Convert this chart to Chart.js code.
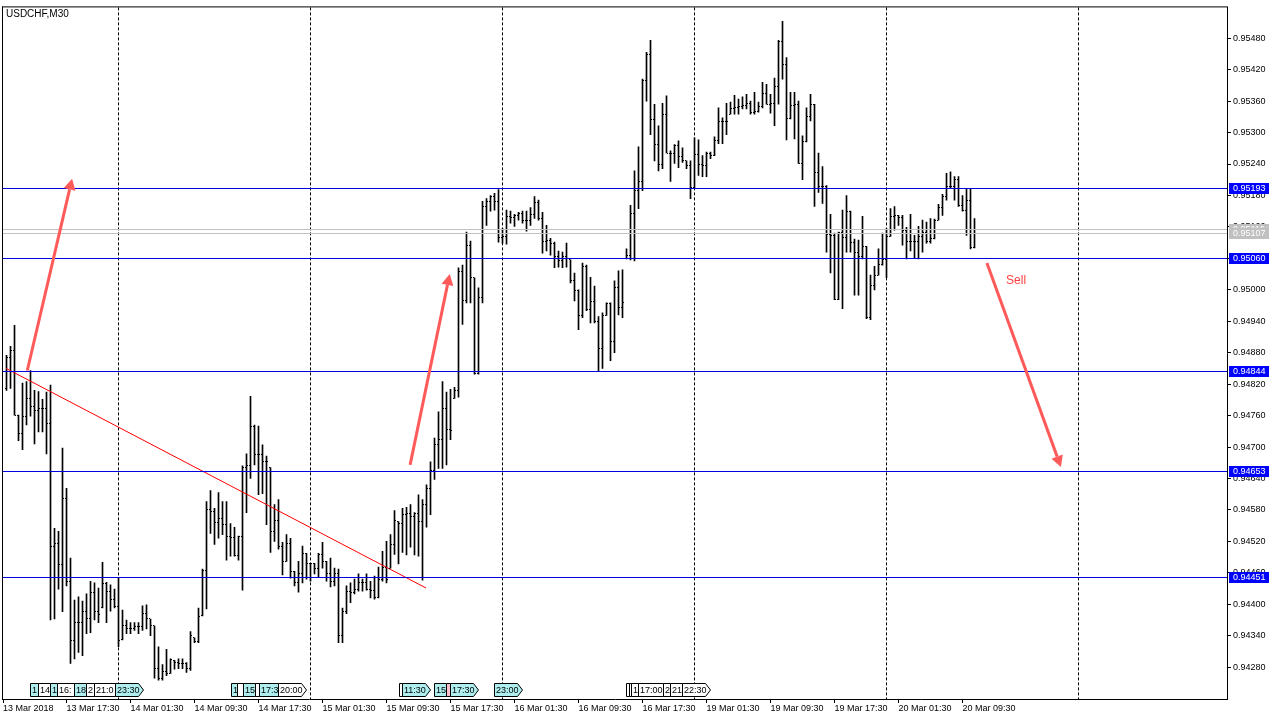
<!DOCTYPE html>
<html>
<head>
<meta charset="utf-8">
<title>USDCHF,M30</title>
<script src="https://cdn.jsdelivr.net/npm/chart.js@4.4.1/dist/chart.umd.min.js"></script>
<style>
  html, body { margin: 0; padding: 0; background: #fff; }
  canvas { display: block; }
</style>
</head>
<body>
<canvas id="chart" width="1280" height="720"></canvas>
<script>
// USDCHF M30 bars, 13 Mar 2018 10:00 .. 20 Mar 2018 11:00 (bar index = position)
const opens = [
  0.94812,0.94871,0.94884,0.94761,0.94725,0.94759,0.94793,0.94778,0.94770,0.94774,
  0.94774,0.94744,0.94511,0.94516,0.94475,0.94602,0.94444,0.94331,0.94365,0.94365,
  0.94386,0.94372,0.94423,0.94387,0.94393,0.94439,0.94425,0.94410,0.94395,0.94332,
  0.94359,0.94353,0.94353,0.94357,0.94357,0.94382,0.94372,0.94359,0.94277,0.94259,
  0.94272,0.94268,0.94293,0.94289,0.94287,0.94287,0.94277,0.94336,0.94329,0.94378,
  0.94465,0.94581,0.94577,0.94556,0.94564,0.94552,0.94530,0.94528,0.94494,0.94530,
  0.94661,0.94664,0.94740,0.94685,0.94685,0.94672,0.94661,0.94539,0.94560,0.94511,
  0.94482,0.94516,0.94463,0.94441,0.94458,0.94497,0.94477,0.94477,0.94469,0.94495,
  0.94482,0.94458,0.94444,0.94458,0.94340,0.94387,0.94425,0.94422,0.94429,0.94441,
  0.94441,0.94429,0.94427,0.94412,0.94448,0.94471,0.94469,0.94514,0.94558,0.94554,
  0.94571,0.94573,0.94568,0.94573,0.94558,0.94590,0.94621,0.94655,0.94704,0.94714,
  0.94774,0.94733,0.94793,0.94808,0.95034,0.94979,0.95085,0.95023,0.94841,0.94985,
  0.95159,0.95169,0.95178,0.95169,0.95100,0.95102,0.95140,0.95138,0.95142,0.95146,
  0.95133,0.95133,0.95144,0.95167,0.95136,0.95093,0.95095,0.95089,0.95064,0.95055,
  0.95064,0.95057,0.95017,0.94998,0.94951,0.95045,0.94962,0.94977,0.94939,0.94888,
  0.94951,0.94973,0.94901,0.95004,0.94966,0.95059,0.95066,0.95146,0.95189,0.95207,
  0.95400,0.95449,0.95324,0.95277,0.95239,0.95335,0.95261,0.95261,0.95275,0.95254,
  0.95246,0.95237,0.95195,0.95258,0.95239,0.95237,0.95261,0.95256,0.95284,0.95322,
  0.95322,0.95335,0.95345,0.95347,0.95349,0.95351,0.95356,0.95339,0.95341,0.95349,
  0.95375,0.95354,0.95356,0.95387,0.95474,0.95430,0.95326,0.95351,0.95354,0.95241,
  0.95282,0.95330,0.95354,0.95224,0.95197,0.95197,0.95106,0.95104,0.94981,0.95110,
  0.95100,0.95150,0.95091,0.95072,0.95064,0.95083,0.94947,0.95009,0.95028,0.95049,
  0.95057,0.95102,0.95140,0.95142,0.95138,0.95114,0.95093,0.95093,0.95093,0.95102,
  0.95110,0.95093,0.95097,0.95133,0.95157,0.95178,0.95197,0.95197,0.95210,0.95161,
  0.95152,0.95171,0.95081
];
const highs = [
  0.94875,0.94892,0.94932,0.94761,0.94822,0.94825,0.94846,0.94808,0.94806,0.94791,
  0.94805,0.94818,0.94545,0.94539,0.94698,0.94621,0.94488,0.94408,0.94414,0.94406,
  0.94420,0.94444,0.94441,0.94431,0.94480,0.94442,0.94437,0.94429,0.94450,0.94389,
  0.94370,0.94365,0.94365,0.94365,0.94397,0.94399,0.94372,0.94359,0.94319,0.94285,
  0.94314,0.94296,0.94293,0.94296,0.94296,0.94289,0.94348,0.94336,0.94393,0.94467,
  0.94596,0.94617,0.94583,0.94613,0.94596,0.94596,0.94554,0.94547,0.94530,0.94664,
  0.94687,0.94797,0.94742,0.94740,0.94704,0.94683,0.94661,0.94590,0.94600,0.94518,
  0.94533,0.94526,0.94463,0.94482,0.94511,0.94497,0.94478,0.94478,0.94497,0.94518,
  0.94482,0.94488,0.94469,0.94467,0.94393,0.94435,0.94441,0.94448,0.94458,0.94448,
  0.94458,0.94444,0.94454,0.94471,0.94501,0.94520,0.94533,0.94579,0.94558,0.94583,
  0.94585,0.94590,0.94575,0.94609,0.94600,0.94628,0.94672,0.94717,0.94767,0.94825,
  0.94805,0.94810,0.94814,0.95042,0.95047,0.95110,0.95093,0.95023,0.95004,0.95169,
  0.95174,0.95180,0.95184,0.95191,0.95117,0.95152,0.95150,0.95144,0.95148,0.95150,
  0.95150,0.95157,0.95178,0.95171,0.95148,0.95123,0.95098,0.95091,0.95074,0.95072,
  0.95089,0.95057,0.95032,0.95000,0.95051,0.95047,0.95024,0.95007,0.94949,0.94956,
  0.94975,0.94975,0.95017,0.95036,0.95038,0.95078,0.95161,0.95227,0.95273,0.95402,
  0.95453,0.95476,0.95354,0.95313,0.95356,0.95370,0.95265,0.95277,0.95284,0.95271,
  0.95246,0.95246,0.95290,0.95286,0.95256,0.95263,0.95263,0.95292,0.95347,0.95328,
  0.95356,0.95358,0.95371,0.95364,0.95368,0.95373,0.95360,0.95377,0.95358,0.95396,
  0.95392,0.95373,0.95404,0.95476,0.95512,0.95443,0.95377,0.95377,0.95360,0.95294,
  0.95347,0.95373,0.95354,0.95261,0.95235,0.95199,0.95144,0.95108,0.95110,0.95152,
  0.95180,0.95150,0.95097,0.95095,0.95140,0.95083,0.95028,0.95045,0.95078,0.95108,
  0.95117,0.95155,0.95159,0.95142,0.95142,0.95119,0.95144,0.95104,0.95121,0.95133,
  0.95129,0.95136,0.95135,0.95163,0.95182,0.95222,0.95225,0.95216,0.95216,0.95180,
  0.95193,0.95193,0.95136
];
const lows = [
  0.94808,0.94812,0.94761,0.94712,0.94695,0.94742,0.94759,0.94706,0.94729,0.94729,
  0.94687,0.94370,0.94372,0.94429,0.94386,0.94435,0.94287,0.94296,0.94308,0.94302,
  0.94344,0.94346,0.94370,0.94365,0.94393,0.94365,0.94387,0.94393,0.94319,0.94332,
  0.94344,0.94344,0.94350,0.94344,0.94350,0.94353,0.94340,0.94259,0.94255,0.94255,
  0.94264,0.94268,0.94276,0.94277,0.94277,0.94270,0.94274,0.94327,0.94327,0.94378,
  0.94391,0.94535,0.94514,0.94526,0.94533,0.94484,0.94492,0.94492,0.94484,0.94427,
  0.94575,0.94640,0.94666,0.94609,0.94611,0.94552,0.94499,0.94520,0.94505,0.94456,
  0.94482,0.94450,0.94435,0.94423,0.94441,0.94448,0.94444,0.94458,0.94452,0.94469,
  0.94444,0.94433,0.94435,0.94327,0.94327,0.94382,0.94403,0.94420,0.94425,0.94425,
  0.94427,0.94412,0.94410,0.94412,0.94444,0.94441,0.94469,0.94495,0.94477,0.94499,
  0.94494,0.94509,0.94494,0.94492,0.94446,0.94547,0.94571,0.94638,0.94659,0.94659,
  0.94666,0.94714,0.94793,0.94795,0.94934,0.94975,0.94975,0.94839,0.94839,0.94975,
  0.95123,0.95150,0.95152,0.95091,0.95089,0.95087,0.95127,0.95121,0.95133,0.95127,
  0.95112,0.95123,0.95136,0.95133,0.95070,0.95074,0.95066,0.95042,0.95043,0.95042,
  0.95043,0.95013,0.94979,0.94924,0.94947,0.94960,0.94937,0.94937,0.94844,0.94850,
  0.94951,0.94865,0.94880,0.94952,0.94947,0.95059,0.95057,0.95055,0.95155,0.95189,
  0.95360,0.95296,0.95246,0.95227,0.95231,0.95261,0.95207,0.95241,0.95233,0.95243,
  0.95231,0.95174,0.95195,0.95218,0.95216,0.95216,0.95250,0.95256,0.95279,0.95279,
  0.95296,0.95335,0.95335,0.95335,0.95345,0.95345,0.95335,0.95335,0.95339,0.95347,
  0.95354,0.95337,0.95313,0.95354,0.95402,0.95286,0.95326,0.95288,0.95241,0.95210,
  0.95282,0.95322,0.95159,0.95186,0.95165,0.95072,0.95032,0.94981,0.94981,0.94964,
  0.95072,0.95072,0.94990,0.94990,0.95059,0.94945,0.94943,0.95000,0.95028,0.95047,
  0.95023,0.95102,0.95114,0.95123,0.95085,0.95059,0.95074,0.95061,0.95059,0.95072,
  0.95089,0.95089,0.95097,0.95133,0.95142,0.95171,0.95193,0.95171,0.95159,0.95150,
  0.95104,0.95078,0.95080
];
const closes = [
  0.94871,0.94884,0.94761,0.94725,0.94759,0.94793,0.94778,0.94770,0.94774,0.94774,
  0.94744,0.94511,0.94516,0.94475,0.94602,0.94444,0.94331,0.94365,0.94365,0.94386,
  0.94372,0.94423,0.94387,0.94380,0.94439,0.94425,0.94410,0.94395,0.94331,0.94359,
  0.94353,0.94353,0.94357,0.94357,0.94382,0.94372,0.94359,0.94277,0.94259,0.94272,
  0.94268,0.94294,0.94289,0.94287,0.94287,0.94277,0.94340,0.94329,0.94376,0.94465,
  0.94581,0.94577,0.94556,0.94564,0.94552,0.94530,0.94528,0.94494,0.94530,0.94661,
  0.94664,0.94740,0.94685,0.94685,0.94672,0.94672,0.94539,0.94560,0.94511,0.94482,
  0.94516,0.94463,0.94441,0.94458,0.94497,0.94477,0.94477,0.94469,0.94495,0.94482,
  0.94458,0.94444,0.94458,0.94340,0.94387,0.94425,0.94422,0.94429,0.94441,0.94441,
  0.94429,0.94427,0.94412,0.94448,0.94471,0.94448,0.94514,0.94560,0.94554,0.94571,
  0.94573,0.94568,0.94573,0.94558,0.94590,0.94621,0.94655,0.94704,0.94714,0.94774,
  0.94733,0.94731,0.94808,0.95034,0.94979,0.95085,0.95023,0.94841,0.94985,0.95159,
  0.95169,0.95178,0.95169,0.95100,0.95102,0.95140,0.95138,0.95142,0.95146,0.95133,
  0.95133,0.95144,0.95167,0.95136,0.95093,0.95095,0.95089,0.95064,0.95055,0.95064,
  0.95059,0.95017,0.94998,0.94951,0.95045,0.94962,0.94977,0.94939,0.94888,0.94951,
  0.94973,0.94901,0.95004,0.94966,0.94975,0.95066,0.95146,0.95189,0.95207,0.95400,
  0.95449,0.95324,0.95277,0.95239,0.95335,0.95261,0.95261,0.95275,0.95254,0.95246,
  0.95237,0.95195,0.95258,0.95239,0.95237,0.95261,0.95256,0.95284,0.95322,0.95322,
  0.95322,0.95345,0.95347,0.95349,0.95351,0.95356,0.95339,0.95341,0.95349,0.95375,
  0.95354,0.95356,0.95387,0.95474,0.95430,0.95326,0.95351,0.95354,0.95241,0.95282,
  0.95330,0.95354,0.95224,0.95197,0.95197,0.95106,0.95104,0.94981,0.95110,0.95100,
  0.95150,0.95091,0.95072,0.95064,0.95083,0.94947,0.95009,0.95028,0.95049,0.95057,
  0.95102,0.95140,0.95142,0.95138,0.95114,0.95093,0.95093,0.95093,0.95102,0.95110,
  0.95093,0.95097,0.95133,0.95157,0.95178,0.95197,0.95197,0.95210,0.95161,0.95152,
  0.95171,0.95081,0.95107
];

// time axis labels (bar index where each label sits)
const timeTickBars = [0, 15, 31, 47, 63, 79, 95, 111, 127, 143, 159, 175, 191, 207, 223, 239];
const timeLabels = ['13 Mar 2018', '13 Mar 17:30', '14 Mar 01:30', '14 Mar 09:30', '14 Mar 17:30',
  '15 Mar 01:30', '15 Mar 09:30', '15 Mar 17:30', '16 Mar 01:30', '16 Mar 09:30', '16 Mar 17:30',
  '19 Mar 01:30', '19 Mar 09:30', '19 Mar 17:30', '20 Mar 01:30', '20 Mar 09:30'];
// day separators (bar at 00:00)
const separatorBars = [28, 76, 124, 172, 220, 268];

const priceTicks = [0.95480, 0.95420, 0.95360, 0.95300, 0.95240, 0.95180, 0.95120, 0.95060,
  0.95000, 0.94940, 0.94880, 0.94820, 0.94760, 0.94700, 0.94640, 0.94580, 0.94520, 0.94460,
  0.94400, 0.94340, 0.94280];

// horizontal lines and bid/ask
const levelPrices = [0.95193, 0.95060, 0.94844, 0.94653, 0.94451];
const quotePrices = [0.95116, 0.95107];

// trend line
const trendBars = [-0.1, 104.9];
const trendPrices = [0.94850, 0.94431];

// arrows
const arrowFromBars = [5.2, 100.9, 245.1];
const arrowFromPrices = [0.94846, 0.94666, 0.95051];
const arrowToBars = [16.4, 110.8, 263.6];
const arrowToPrices = [0.95212, 0.95030, 0.94662];
const noteBar = 249.9;
const notePrice = 0.95017;
const noteText = 'Sell';

// calendar events along the bottom
const eventBars = [5.9, 7.8, 10.9, 12.7, 16.9, 19.9, 21.9, 27.0,
  56.0, 57.7, 59.0, 62.2, 63.0, 67.9,
  98.0, 98.8, 106.9, 109.8, 110.9, 121.9,
  154.9, 155.5, 156.1, 157.9, 164.0, 165.9, 168.8];
const eventTexts = ['1', '14', '1', '16:', '18', '2', '21:0', '23:30',
  '1', '', '15', '', '17:3', '20:00',
  '', '11:30', '15', '', '17:30', '23:00',
  '', '', '1', '17:00', '2', '21', '22:30'];
const eventKinds = ['c', 'w', 'c', 'w', 'c', 'w', 'w', 'c',
  'c', 'w', 'c', 'w', 'c', 'w',
  'w', 'c', 'c', 'p', 'c', 'c',
  'w', 'w', 'w', 'w', 'w', 'w', 'w'];
const eventTails = [0, 0, 0, 0, 0, 0, 0, 1,
  0, 0, 0, 0, 0, 1,
  0, 1, 0, 0, 1, 1,
  0, 0, 0, 0, 0, 0, 1];

const xMin = -0.875, xMax = 305.125;
const yMin = 0.942193, yMax = 0.955388;
const FONT = '"Liberation Sans", Arial, sans-serif';

Chart.defaults.font.family = FONT;
Chart.defaults.font.size = 9;
Chart.defaults.color = '#000';

const eventFill = { c: '#afeeee', w: '#ffffff', p: '#ffc0cb' };

function drawArrow(ctx, x0, y0, x1, y1) {
  const ang = Math.atan2(y1 - y0, x1 - x0);
  const len = 11, half = 6;
  const bx = x1 - len * Math.cos(ang), by = y1 - len * Math.sin(ang);
  ctx.strokeStyle = '#ff5a5a';
  ctx.fillStyle = '#ff5a5a';
  ctx.lineWidth = 3;
  ctx.beginPath();
  ctx.moveTo(x0, y0);
  ctx.lineTo(bx, by);
  ctx.stroke();
  ctx.beginPath();
  ctx.moveTo(x1, y1);
  ctx.lineTo(bx + half * Math.sin(ang), by - half * Math.cos(ang));
  ctx.lineTo(bx - half * Math.sin(ang), by + half * Math.cos(ang));
  ctx.closePath();
  ctx.fill();
}

const mtPlugin = {
  id: 'mt',
  beforeDraw(chart) {
    const ctx = chart.ctx;
    ctx.save();
    ctx.fillStyle = '#fff';
    ctx.fillRect(0, 0, chart.width, chart.height);
    ctx.restore();
  },
  afterDatasetsDraw(chart) {
    const { ctx, chartArea: a, scales: { x, y } } = chart;
    const row = p => Math.round(y.getPixelForValue(p) - 0.5);
    ctx.save();

    // open / close ticks of the bars
    ctx.fillStyle = '#000';
    for (let i = 0; i < opens.length; i++) {
      const col = Math.round(x.getPixelForValue(i) - 0.5);
      ctx.fillRect(col - 1, row(opens[i]), 1, 1);
      ctx.fillRect(col + 1, row(closes[i]), 1, 1);
    }

    // bid / ask lines
    ctx.fillStyle = '#c0c0c0';
    quotePrices.forEach(p => ctx.fillRect(a.left, row(p), a.right - a.left, 1));

    // horizontal levels
    ctx.fillStyle = '#0000e0';
    levelPrices.forEach(p => ctx.fillRect(a.left, row(p), a.right - a.left, 1));

    // arrows
    for (let i = 0; i < arrowFromBars.length; i++) {
      drawArrow(ctx,
        x.getPixelForValue(arrowFromBars[i]), y.getPixelForValue(arrowFromPrices[i]),
        x.getPixelForValue(arrowToBars[i]), y.getPixelForValue(arrowToPrices[i]));
    }

    // note text
    ctx.fillStyle = '#ff4040';
    ctx.font = '12px ' + FONT;
    ctx.textBaseline = 'middle';
    ctx.textAlign = 'left';
    ctx.fillText(noteText, x.getPixelForValue(noteBar), y.getPixelForValue(notePrice));

    // event boxes
    ctx.font = '9px ' + FONT;
    const top = a.bottom - 16, h = 13;
    for (let i = 0; i < eventBars.length; i++) {
      const left = Math.round(x.getPixelForValue(eventBars[i]));
      const right = eventTails[i] ? left + 28 : Math.round(x.getPixelForValue(eventBars[i + 1]));
      ctx.save();
      ctx.beginPath();
      if (eventTails[i]) {
        ctx.moveTo(left + 0.5, top + 0.5);
        ctx.lineTo(right - 4.5, top + 0.5);
        ctx.lineTo(right + 0.5, top + 0.5 + h / 2);
        ctx.lineTo(right - 4.5, top + h + 0.5);
        ctx.lineTo(left + 0.5, top + h + 0.5);
        ctx.closePath();
      } else {
        ctx.rect(left + 0.5, top + 0.5, right - left, h);
      }
      ctx.fillStyle = eventFill[eventKinds[i]];
      ctx.fill();
      ctx.strokeStyle = '#000';
      ctx.lineWidth = 1;
      ctx.stroke();
      ctx.clip();
      ctx.fillStyle = '#000';
      ctx.textBaseline = 'middle';
      ctx.fillText(eventTexts[i], left + 2, top + h / 2 + 1);
      ctx.restore();
    }
    ctx.restore();
  },
  afterDraw(chart) {
    const { ctx, chartArea: a, scales: { y } } = chart;
    const row = p => Math.round(y.getPixelForValue(p) - 0.5);
    ctx.save();
    ctx.font = '9px ' + FONT;
    ctx.textBaseline = 'middle';
    ctx.textAlign = 'left';
    const tag = (p, bg) => {
      const r = row(p);
      ctx.fillStyle = bg;
      ctx.fillRect(a.right + 2, r - 5, 40, 11);
      ctx.fillStyle = '#fff';
      ctx.fillText(p.toFixed(5), a.right + 6, r + 1);
    };
    quotePrices.forEach(p => tag(p, '#c0c0c0'));
    levelPrices.forEach(p => tag(p, '#0000ff'));

    // frame top / left
    ctx.fillStyle = '#000';
    ctx.fillRect(a.left - 1, a.top - 1, a.right - a.left + 2, 1);
    ctx.fillRect(a.left - 1, a.top - 1, 1, a.bottom - a.top + 2);

    // symbol caption
    ctx.font = '10px ' + FONT;
    ctx.textBaseline = 'top';
    ctx.fillText('USDCHF,M30', a.left + 3, a.top + 2);
    ctx.restore();
  }
};

new Chart(document.getElementById('chart'), {
  type: 'bar',
  data: {
    datasets: [
      {
        type: 'line',
        data: trendBars.map((b, i) => ({ x: b, y: trendPrices[i] })),
        borderColor: '#ff0000',
        borderWidth: 1,
        pointRadius: 0,
        order: 0
      },
      {
        data: highs.map((hi, i) => ({ x: i, y: [lows[i], hi] })),
        backgroundColor: '#000',
        borderWidth: 0,
        barThickness: 1,
        order: 1
      }
    ]
  },
  options: {
    responsive: false,
    devicePixelRatio: 1,
    animation: false,
    layout: { padding: { left: 3, top: 3, right: 0, bottom: 0 } },
    plugins: { legend: { display: false }, tooltip: { enabled: false } },
    scales: {
      x: {
        type: 'linear', position: 'bottom', min: xMin, max: xMax, offset: false,
        afterBuildTicks: s => { s.ticks = timeTickBars.map((b, i) => ({ value: i === 0 ? xMin : b })); },
        afterFit: s => { s.height = 21; },
        grid: { drawOnChartArea: false, drawTicks: true, tickLength: 4, color: '#000', offset: false },
        border: { display: true, color: '#000' },
        ticks: {
          autoSkip: false, maxRotation: 0, minRotation: 0, align: 'start', padding: 0,
          color: '#000', font: { size: 9 },
          callback: (v, i) => timeLabels[i]
        }
      },
      sep: {
        type: 'linear', position: 'bottom', min: xMin, max: xMax, offset: false,
        // shifted 1/8 bar so the dotted line lands on the bar column
        afterBuildTicks: s => { s.ticks = separatorBars.map(b => ({ value: b - 0.125 })); },
        afterFit: s => { s.height = 0; },
        grid: { drawOnChartArea: true, drawTicks: false, color: '#000', lineWidth: 1, offset: false },
        border: { display: false, dash: [3, 2] },
        ticks: { display: false }
      },
      y: {
        type: 'linear', position: 'right', min: yMin, max: yMax,
        afterBuildTicks: s => { s.ticks = priceTicks.map(v => ({ value: v })); },
        afterFit: s => { s.width = 53; },
        grid: { drawOnChartArea: false, drawTicks: true, tickLength: 4, color: '#000' },
        border: { display: true, color: '#000' },
        ticks: { padding: 2, color: '#000', font: { size: 9 }, callback: v => v.toFixed(5) }
      }
    }
  },
  plugins: [mtPlugin]
});
</script>
</body>
</html>
